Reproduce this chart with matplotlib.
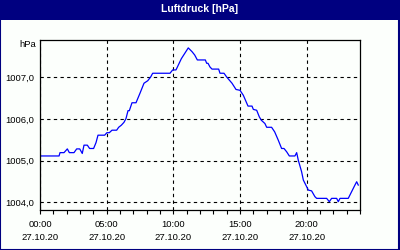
import matplotlib
matplotlib.use('Agg')
import matplotlib.pyplot as plt
from matplotlib.patches import Rectangle
from matplotlib.ticker import MultipleLocator

# Stunden seit 27.10.20 00:00 und Luftdruck in hPa
hours = [0.0, 1.43, 1.5, 1.8, 2.05, 2.2, 2.55, 2.75, 2.98, 3.17, 3.3, 3.55,
         3.72, 4.02, 4.2, 4.35, 4.85, 5.02, 5.2, 5.4, 5.75, 5.9, 6.1, 6.3,
         6.45, 6.6, 6.7, 6.9, 7.2, 7.5, 7.8, 8.08, 8.3, 8.45, 9.75, 9.95,
         10.2, 10.6, 11.12, 11.4, 11.6, 11.8, 12.4, 12.5, 12.6, 12.75, 12.9,
         13.4, 13.5, 13.8, 14.0, 14.4, 14.7, 15.0, 15.25, 15.6, 15.9, 16.0,
         16.25, 16.45, 16.6, 16.87, 17.0, 17.37, 17.6, 17.87, 18.12, 18.3,
         18.5, 18.7, 19.12, 19.25, 19.37, 19.62, 19.75, 20.0, 20.12, 20.37,
         20.62, 20.75, 21.5, 21.7, 21.87, 22.25, 22.37, 22.5, 23.12, 23.37,
         23.62, 23.75, 23.87]
pressure = [1005.11, 1005.11, 1005.19, 1005.19, 1005.28, 1005.19, 1005.19,
            1005.28, 1005.28, 1005.17, 1005.37, 1005.37, 1005.29, 1005.29,
            1005.43, 1005.61, 1005.61, 1005.67, 1005.67, 1005.73, 1005.73,
            1005.80, 1005.85, 1005.92, 1006.01, 1006.20, 1006.20, 1006.39,
            1006.39, 1006.62, 1006.86, 1006.92, 1007.01, 1007.10, 1007.10,
            1007.18, 1007.18, 1007.45, 1007.71, 1007.62, 1007.54, 1007.42,
            1007.42, 1007.34, 1007.34, 1007.25, 1007.20, 1007.20, 1007.10,
            1007.10, 1007.01, 1006.86, 1006.71, 1006.69, 1006.57, 1006.31,
            1006.31, 1006.23, 1006.21, 1006.05, 1005.97, 1005.89, 1005.80,
            1005.80, 1005.69, 1005.49, 1005.29, 1005.29, 1005.21, 1005.11,
            1005.11, 1005.19, 1005.01, 1004.73, 1004.53, 1004.37, 1004.29,
            1004.27, 1004.13, 1004.09, 1004.09, 1004.01, 1004.09, 1004.09,
            1004.01, 1004.09, 1004.09, 1004.25, 1004.41, 1004.49, 1004.41]

x_ticks = [0, 5, 10, 15, 20]
x_labels = ['00:00\n27.10.20', '05:00\n27.10.20', '10:00\n27.10.20',
            '15:00\n27.10.20', '20:00\n27.10.20']
y_ticks = [1004, 1005, 1006, 1007]
y_labels = ['1004,0', '1005,0', '1006,0', '1007,0']

NAVY = '#000080'
FONT = 'Liberation Sans'

fig = plt.figure(figsize=(4, 2.5), dpi=100, facecolor='#fcfffc')

# Rahmen und Titelleiste
fig.patches.append(Rectangle((0.001, 0.002), 0.997, 0.99, transform=fig.transFigure,
                             fill=False, edgecolor=NAVY, linewidth=1.5))
fig.patches.append(Rectangle((0, 1 - 20 / 250), 1, 20 / 250, transform=fig.transFigure,
                             facecolor=NAVY, edgecolor='none'))
fig.text(0.5, 1 - 9 / 250, 'Luftdruck [hPa]', color='white', fontweight='bold',
         fontsize=7.5, family=FONT, ha='center', va='center')

ax = fig.add_axes([40 / 400, 1 - 210 / 250, 320 / 400, 170 / 250])
ax.set_facecolor('#fcfffc')
ax.plot(hours, pressure, color='#0000ff', linewidth=0.9)

ax.set_xlim(0, 24)
ax.set_ylim(1003.81, 1007.9)

ax.set_xticks(x_ticks)
ax.set_xticklabels(x_labels, fontsize=6.8, family=FONT, linespacing=1.6)
ax.xaxis.set_minor_locator(MultipleLocator(1))
ax.set_yticks(y_ticks)
ax.set_yticklabels(y_labels, fontsize=6.8, family=FONT)

ax.tick_params(axis='x', which='both', direction='out', length=3, width=0.8,
               pad=4, colors='black')
ax.tick_params(axis='y', length=0, pad=4)

ax.grid(True, which='major', color='black', linestyle=(0, (3, 3)), linewidth=0.8)
for spine in ax.spines.values():
    spine.set_linewidth(0.9)
    spine.set_color('black')

fig.text(36 / 400, 1 - 45 / 250, 'hPa', fontsize=6.8, family=FONT,
         ha='right', va='center')

fig.savefig('out.png', dpi=100, facecolor=fig.get_facecolor())
